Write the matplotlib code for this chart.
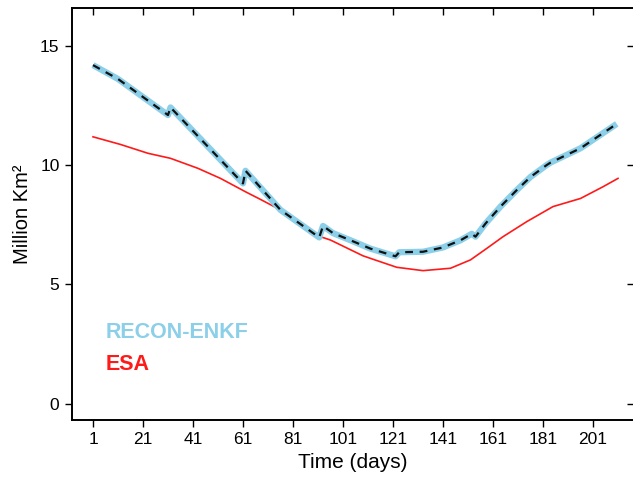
import numpy as np
import matplotlib
matplotlib.use('Agg')
import matplotlib.pyplot as plt

plt.rcParams['font.family'] = ['Liberation Sans', 'DejaVu Sans']

# RECON-ENKF (breakpoints, sawtooth jumps kept)
recon_day = [1, 11, 31, 32, 61, 62, 76, 91.5, 93, 97, 104, 112, 122, 123.5,
             133, 141, 148, 152.5, 154, 158, 164, 170.5, 176, 182.5, 184,
             196, 210.5]
recon_val = [14.18, 13.6, 12.09, 12.41, 9.23, 9.76, 8.12, 6.97, 7.45, 7.15,
             6.85, 6.5, 6.18, 6.35, 6.37, 6.55, 6.85, 7.12, 7.0, 7.55, 8.26,
             8.95, 9.5, 10.0, 10.1, 10.7, 11.72]

# ESA
esa_day = [1, 12, 23, 32, 43, 52, 62, 68, 76, 84, 92, 96, 109, 116, 122.5,
           133, 144, 152, 158.5, 165, 174.5, 185, 196, 205, 211]
esa_val = [11.18, 10.86, 10.49, 10.28, 9.86, 9.44, 8.88, 8.56, 8.12, 7.55,
           7.0, 6.86, 6.2, 5.95, 5.72, 5.58, 5.68, 6.03, 6.51, 7.0, 7.63,
           8.26, 8.6, 9.09, 9.44]

xticks = np.arange(1, 202, 20)
yticks = [0, 5, 10, 15]

fig = plt.figure(figsize=(6.33, 4.82), dpi=100)
ax = fig.add_axes([72 / 633, 62 / 482, 562 / 633, 412 / 482])

ax.plot(esa_day, esa_val, color='#ff1a1a', lw=1.2, zorder=3)
ax.plot(recon_day, recon_val, color='#8ccfe9', lw=4.5, solid_capstyle='butt', zorder=4)
ax.plot(recon_day, recon_val, color='#111111', lw=1.6, dashes=(3.5, 3), zorder=5)

ax.text(6.2, 3.0, 'RECON-ENKF', color='#8ccfe9', fontsize=15.5, fontweight='bold', va='center')
ax.text(6.2, 1.67, 'ESA', color='#ff1a1a', fontsize=15.5, fontweight='bold', va='center')

ax.set_xlim(-7.4, 217.4)
ax.set_ylim(-0.67, 16.57)
ax.set_xticks(xticks)
ax.set_yticks(yticks)
ax.tick_params(axis='both', labelsize=12.5, length=5, width=1, direction='out', pad=4)
ax.tick_params(top=True, right=True, which='both')
# top/right ticks point inward
for t in ax.xaxis.get_major_ticks():
    t.tick2line.set_marker(3)
for t in ax.yaxis.get_major_ticks():
    t.tick2line.set_marker(0)
for s in ax.spines.values():
    s.set_linewidth(1.4)

ax.set_xlabel('Time (days)', fontsize=15)
ax.set_ylabel('Million Km²', fontsize=14.5, labelpad=6)

fig.savefig('out.png', dpi=100)
